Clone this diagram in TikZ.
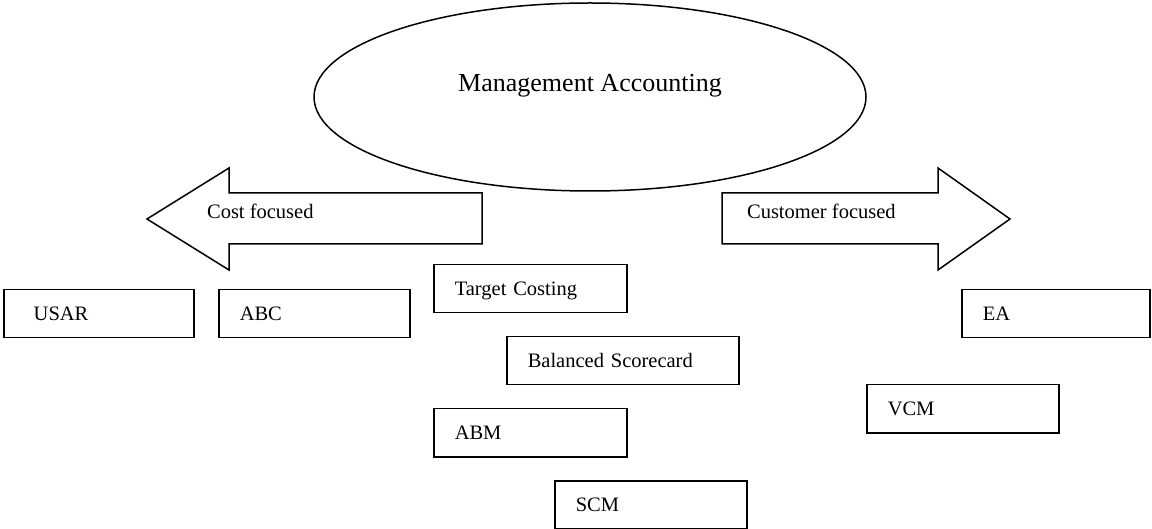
\documentclass[tikz,border=0pt]{standalone}
\usepackage{fontspec}
\setmainfont{Liberation Serif}
\usetikzlibrary{shapes.geometric}

\begin{document}
\begin{tikzpicture}[x=1pt, y=-1pt, line width=1.5pt,
    every node/.style={font=\fontsize{20.5}{24}\selectfont},
    box/.style={draw, anchor=north west, inner ysep=0pt, inner xsep=21pt, text height=31pt, text depth=17pt, align=left}]
  \useasboundingbox (0,0) rectangle (1152,529);
  % oval on top
  \node[draw, ellipse, minimum width=552pt, minimum height=188pt, inner sep=0pt, text height=18pt, text depth=28pt, font=\fontsize{26}{30}\selectfont] (ma) at (590,97) {Management Accounting};
  % the two big arrows
  \draw (482,193) -- (229,193) -- (229,168) -- (147,219) -- (229,270) -- (229,244) -- (482,244) -- cycle;
  \node[anchor=base west] (cost) at (203,219) {Cost focused};
  \draw (722,193) -- (938,193) -- (938,168) -- (1010,219) -- (938,270) -- (938,244) -- (722,244) -- cycle;
  \node[anchor=base west] (cust) at (743,219) {Customer focused};
  % boxes
  \node[box, text width=130pt, inner xsep=30pt] (usar) at (3,289) {USAR};
  \node[box, text width=149pt] (abc) at (218,289) {ABC};
  \node[box, text width=151pt] (tc) at (433,264) {Target Costing};
  \node[box, text width=190pt] (bsc) at (506,336) {Balanced Scorecard};
  \node[box, text width=151pt] (abm) at (433,408) {ABM};
  \node[box, text width=150pt] (scm) at (554,480) {SCM};
  \node[box, text width=146pt] (ea) at (961,289) {EA};
  \node[box, text width=150pt] (vcm) at (866,384) {VCM};
\end{tikzpicture}
\end{document}
